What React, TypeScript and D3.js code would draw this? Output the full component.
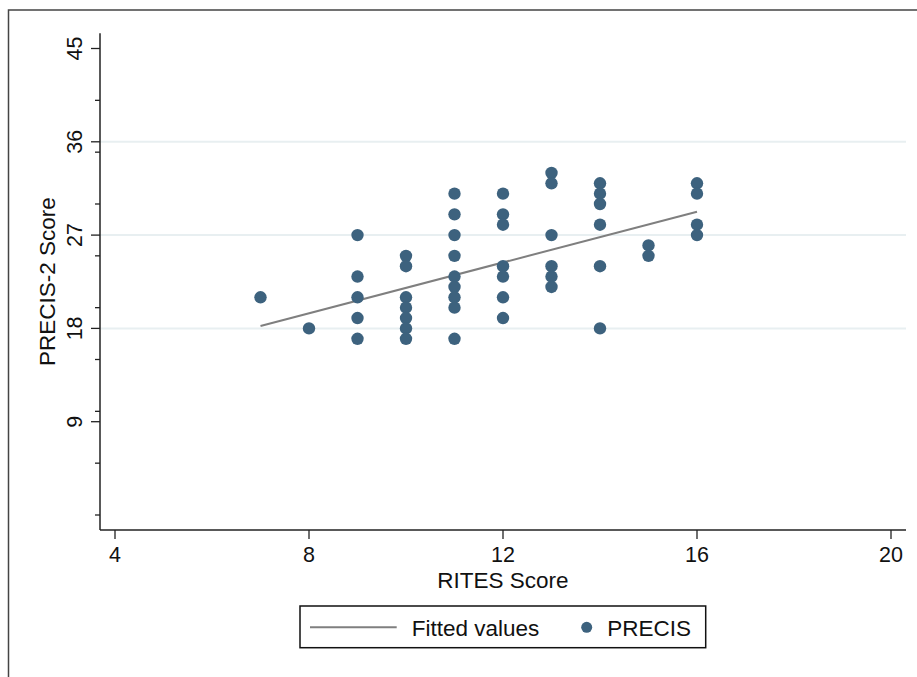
import React from "react";
import * as d3 from "d3";

// RITES score (x) and PRECIS-2 score (y) for each trial
const ritesScore = [
  7,
  8,
  9, 9, 9, 9, 9,
  10, 10, 10, 10, 10, 10, 10,
  11, 11, 11, 11, 11, 11, 11, 11, 11,
  12, 12, 12, 12, 12, 12, 12,
  13, 13, 13, 13, 13, 13,
  14, 14, 14, 14, 14, 14,
  15, 15,
  16, 16, 16, 16,
];
const precisScore = [
  21,
  18,
  27, 23, 21, 19, 17,
  25, 24, 21, 20, 19, 18, 17,
  31, 29, 27, 25, 23, 22, 21, 20, 17,
  31, 29, 28, 24, 23, 21, 19,
  33, 32, 27, 24, 23, 22,
  32, 31, 30, 28, 24, 18,
  26, 25,
  32, 31, 28, 27,
];

// Linear fit drawn across the observed RITES range
const fittedX = [7, 16];
const fittedY = [18.23, 29.26];

const xTicks = [4, 8, 12, 16, 20];
const yTicks = [9, 18, 27, 36, 45];
const yMinorTicks = [0, 5, 10, 15, 20, 25, 30, 35, 40];
const gridValues = [18, 27, 36];

const xTitle = "RITES Score";
const yTitle = "PRECIS-2 Score";
const legendLine = "Fitted values";
const legendDots = "PRECIS";

const W = 917;
const H = 677;
const FONT = "'Liberation Sans', Arial, Helvetica, sans-serif";
const DOT = "#3d627e";
const FIT = "#7f7f7f";
const GRID = "#e8eff1";
const AXIS = "#222";

export default function App() {
  const plotLeft = 100;
  const plotRight = 906;
  const plotTop = 33.3;
  const plotBottom = 530;

  const x = d3.scaleLinear().domain([4, 20]).range([115, 891]);
  const y = d3.scaleLinear().domain([0, 45]).range([515, 48.5]);

  const points = ritesScore.map((r, i) => ({ r, p: precisScore[i] }));
  const fitLine = d3
    .line<number>()
    .x((d) => x(d))
    .y((_, i) => y(fittedY[i]))(fittedX);

  return (
    <svg
      width={W}
      height={H}
      viewBox={`0 0 ${W} ${H}`}
      style={{ position: "absolute", left: 0, top: 0, background: "#fff" }}
      fontFamily={FONT}
    >
      <rect x={0} y={0} width={W} height={H} fill="#fff" />
      {/* outer graph frame */}
      <rect
        x={8.5}
        y={10}
        width={W + 20}
        height={H + 20}
        fill="#fff"
        stroke="#444"
        strokeWidth={1.5}
      />

      {/* gridlines */}
      {gridValues.map((v) => (
        <line
          key={`g${v}`}
          x1={plotLeft}
          x2={plotRight}
          y1={y(v)}
          y2={y(v)}
          stroke={GRID}
          strokeWidth={2}
        />
      ))}

      {/* fitted line */}
      <path d={fitLine || ""} fill="none" stroke={FIT} strokeWidth={2} />

      {/* scatter */}
      {points.map((d, i) => (
        <circle key={i} cx={x(d.r)} cy={y(d.p)} r={6.2} fill={DOT} />
      ))}

      {/* y axis */}
      <line x1={plotLeft} x2={plotLeft} y1={plotTop} y2={plotBottom} stroke={AXIS} strokeWidth={1.5} />
      {yMinorTicks.map((v) => (
        <line key={`ym${v}`} x1={plotLeft - 5} x2={plotLeft} y1={y(v)} y2={y(v)} stroke={AXIS} strokeWidth={1.3} />
      ))}
      {yTicks.map((v) => (
        <g key={`y${v}`}>
          <line x1={plotLeft - 9} x2={plotLeft} y1={y(v)} y2={y(v)} stroke={AXIS} strokeWidth={1.3} />
          <text
            transform={`translate(82,${y(v)}) rotate(-90)`}
            textAnchor="middle"
            fontSize={21.5}
            fill="#111"
          >
            {v}
          </text>
        </g>
      ))}
      <text
        transform={`translate(55,${(plotTop + plotBottom) / 2}) rotate(-90)`}
        textAnchor="middle"
        fontSize={22.5}
        fill="#111"
      >
        {yTitle}
      </text>

      {/* x axis */}
      <line x1={plotLeft} x2={plotRight} y1={plotBottom} y2={plotBottom} stroke={AXIS} strokeWidth={1.5} />
      {xTicks.map((v) => (
        <g key={`x${v}`}>
          <line x1={x(v)} x2={x(v)} y1={plotBottom} y2={plotBottom + 9} stroke={AXIS} strokeWidth={1.3} />
          <text x={x(v)} y={561.7} textAnchor="middle" fontSize={21.5} fill="#111">
            {v}
          </text>
        </g>
      ))}
      <text x={(plotLeft + plotRight) / 2} y={587.7} textAnchor="middle" fontSize={22.5} fill="#111">
        {xTitle}
      </text>

      {/* legend */}
      <rect x={300} y={606} width={405.7} height={41.7} fill="#fff" stroke="#111" strokeWidth={1.5} />
      <line x1={310} x2={396.7} y1={627.3} y2={627.3} stroke={FIT} strokeWidth={2} />
      <text x={411.7} y={636} fontSize={22.5} fill="#111">
        {legendLine}
      </text>
      <circle cx={586.7} cy={627.3} r={5.5} fill={DOT} />
      <text x={607.3} y={636} fontSize={22.5} fill="#111">
        {legendDots}
      </text>
    </svg>
  );
}
